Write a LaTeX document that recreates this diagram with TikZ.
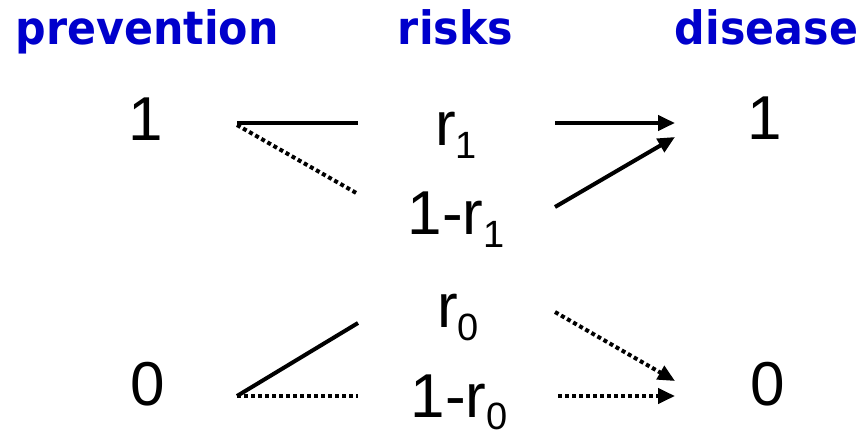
\documentclass[tikz,border=0pt]{standalone}
\usepackage{fontspec}
\setmainfont{Liberation Sans}
\newfontfamily\headfont{DejaVu Sans}[FakeStretch=0.93]
\usepackage{tikz}
\usepackage{xcolor}
\usetikzlibrary{arrows.meta,positioning,calc}
\definecolor{headblue}{HTML}{0000CC}
\definecolor{ink}{HTML}{000000}
\newcommand{\sub}[1]{\raisebox{-13pt}{\fontsize{38}{38}\selectfont #1}}
\tikzset{
  headlbl/.style={anchor=base,inner sep=0pt,text=headblue,
                  font=\headfont\bfseries\fontsize{46}{46}\selectfont},
  vallbl/.style={anchor=base,inner sep=0pt,text=ink,
                 font=\fontsize{62}{62}\selectfont},
  solidline/.style={draw=ink,line width=4pt},
  dotline/.style={draw=ink,line width=4pt,dash pattern=on 4pt off 3pt},
  solidarr/.style={solidline,-{Triangle[length=17pt,width=15pt]}},
  dotarr/.style={dotline,-{Triangle[length=17pt,width=15pt]}}
}

\begin{document}
\begin{tikzpicture}[x=1pt,y=-1pt]
      \useasboundingbox[fill=white] (0,0) rectangle (859,435);
      % column heads
      \node[headlbl] (hPrev) at (147,45) {prevention};
      \node[headlbl] (hRisk) at (455.5,45) {risks};
      \node[headlbl] (hDis) at (766.5,45) {disease};
      % values
      \node[vallbl] (prevHi) at (145.5,141) {1};
      \node[vallbl] (prevLo) at (147.5,405) {0};
      \node[vallbl] (rOne) at (456,146) {r\sub{1}};
      \node[vallbl] (notrOne) at (456,235) {1-r\sub{1}};
      \node[vallbl] (rZero) at (458,328) {r\sub{0}};
      \node[vallbl] (notrZero) at (459,417) {1-r\sub{0}};
      \node[vallbl] (disHi) at (765,140) {1};
      \node[vallbl] (disLo) at (768,405) {0};
      % prevention -> risks
      \draw[solidline] ([shift={(91.5,-18)}]prevHi.base) -- ([shift={(-98,-23)}]rOne.base);
      \draw[dotline] ([shift={(91.5,-16)}]prevHi.base) -- ([shift={(-98,-41)}]notrOne.base);
      \draw[solidline] ([shift={(89.5,-9)}]prevLo.base) -- ([shift={(-100,-5)}]rZero.base);
      \draw[dotline] ([shift={(89.5,-9)}]prevLo.base) -- ([shift={(-101,-21)}]notrZero.base);
      % risks -> disease
      \draw[solidarr] ([shift={(99,-23)}]rOne.base) -- ([shift={(-90,-17)}]disHi.base);
      \draw[solidarr] ([shift={(99,-28)}]notrOne.base) -- ([shift={(-90,-3)}]disHi.base);
      \draw[dotarr] ([shift={(97,-16)}]rZero.base) -- ([shift={(-93,-24)}]disLo.base);
      \draw[dotarr] ([shift={(99,-21)}]notrZero.base) -- ([shift={(-93,-9)}]disLo.base);
    \end{tikzpicture}
\end{document}
